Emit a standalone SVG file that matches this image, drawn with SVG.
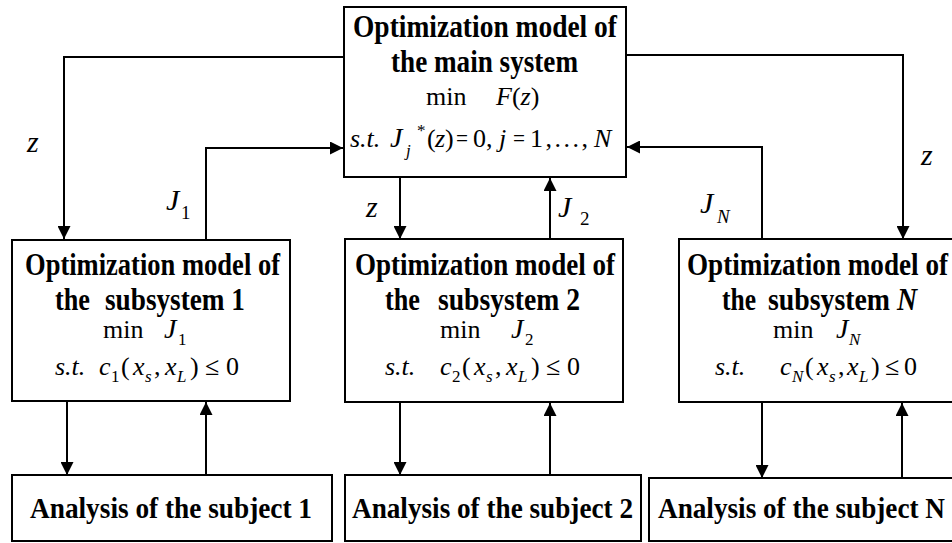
<svg xmlns="http://www.w3.org/2000/svg" width="952" height="543" viewBox="0 0 952 543">
<style>
.box{fill:#fff;stroke:#000;stroke-width:2}
.ln{fill:none;stroke:#000;stroke-width:2;marker-end:url(#ah)}
.t{font-family:"Liberation Serif","Times New Roman",serif;font-weight:bold;font-size:31px;fill:#000}
.b{font-family:"Liberation Serif","Times New Roman",serif;font-weight:bold;font-size:29px;fill:#000}
.m{font-family:"Liberation Serif","Times New Roman",serif;font-size:26px;fill:#000}
.i{font-style:italic}
.J{font-size:28px}
.s{font-size:17px}
.lb{font-family:"Liberation Serif","Times New Roman",serif;font-size:30px;font-style:italic;fill:#000}
.ls{font-family:"Liberation Serif","Times New Roman",serif;font-size:19px;fill:#000}
</style>
<defs>
<marker id="ah" markerUnits="userSpaceOnUse" markerWidth="13" markerHeight="13" refX="13" refY="6.5" orient="auto">
<path d="M0,0 L13,6.5 L0,13 z" fill="#000"/>
</marker>
</defs>
<rect width="952" height="543" fill="#fff"/>

<g id="connectors">
<path class="ln" d="M344,57 H64 V239"/>
<path class="ln" d="M206,240 V148 H343"/>
<path class="ln" d="M400,177 V239"/>
<path class="ln" d="M550,239 V178"/>
<path class="ln" d="M762,239 V147 H627"/>
<path class="ln" d="M626,55 H903 V239"/>
<path class="ln" d="M67,401 V475"/>
<path class="ln" d="M206,475 V402"/>
<path class="ln" d="M400,402 V475"/>
<path class="ln" d="M550,475 V403"/>
<path class="ln" d="M762,402 V478"/>
<path class="ln" d="M902,478 V403"/>
</g>

<g id="labels">
<text class="lb" x="27" y="152">z</text>
<text class="lb" x="166" y="210">J</text><text class="ls" x="181" y="219">1</text>
<text class="lb" x="366" y="217">z</text>
<text class="lb" x="558" y="217">J</text><text class="ls" x="580" y="225">2</text>
<text class="lb" x="700" y="213">J</text><text class="ls i" x="717" y="223">N</text>
<text class="lb" x="921" y="165">z</text>
</g>

<g id="main">
<rect class="box" x="344" y="7" width="282" height="170"/>
<text class="t" x="353" y="37" textLength="264" lengthAdjust="spacingAndGlyphs">Optimization model of</text>
<text class="t" x="391" y="72" textLength="187" lengthAdjust="spacingAndGlyphs">the main system</text>
<text class="m" x="426" y="105">min</text>
<text class="m" x="496" y="105"><tspan class="i">F</tspan>(<tspan class="i">z</tspan>)</text>
<text class="m i" x="350" y="147">s.t.</text>
<text class="m i J" x="390" y="147">J</text>
<text class="m s" x="417" y="136">*</text>
<text class="m s i" x="406" y="156">j</text>
<text class="m" x="427" y="147">(</text>
<text class="m i" x="435" y="147">z</text>
<text class="m" x="445" y="147">)</text>
<text class="m" x="456" y="147" textLength="12" lengthAdjust="spacingAndGlyphs">=</text>
<text class="m" x="473" y="147">0,</text>
<text class="m i" x="499" y="147">j</text>
<text class="m" x="513" y="147" textLength="12" lengthAdjust="spacingAndGlyphs">=</text>
<text class="m" x="530" y="147" textLength="58" lengthAdjust="spacing">1,...,</text>
<text class="m i" x="594" y="147">N</text>
</g>

<g id="sub1">
<rect class="box" x="12" y="240" width="278" height="161"/>
<text class="t" x="25" y="275" textLength="255" lengthAdjust="spacingAndGlyphs">Optimization model of</text>
<text class="t" x="55" y="310" textLength="35" lengthAdjust="spacingAndGlyphs">the</text>
<text class="t" x="105" y="310" textLength="140" lengthAdjust="spacingAndGlyphs">subsystem 1</text>
<text class="m" x="103" y="338">min</text>
<text class="m i J" x="164" y="338">J</text><text class="m s" x="178" y="345">1</text>
<text class="m i" x="55" y="375">s.t.</text>
<text class="m i" x="99" y="375">c</text><text class="m s" x="111" y="382">1</text>
<text class="m" x="121" y="375">(</text>
<text class="m i" x="133" y="375">x</text><text class="m s i" x="145" y="382">s</text>
<text class="m" x="154" y="375">,</text>
<text class="m i" x="165" y="375">x</text><text class="m s i" x="177" y="382">L</text>
<text class="m" x="190" y="375">)</text>
<text class="m" x="205" y="375">≤</text>
<text class="m" x="226" y="375">0</text>
</g>

<g id="sub2">
<rect class="box" x="345" y="239" width="278" height="163"/>
<text class="t" x="355" y="275" textLength="260" lengthAdjust="spacingAndGlyphs">Optimization model of</text>
<text class="t" x="385" y="310" textLength="35" lengthAdjust="spacingAndGlyphs">the</text>
<text class="t" x="438" y="310" textLength="142" lengthAdjust="spacingAndGlyphs">subsystem 2</text>
<text class="m" x="440" y="338">min</text>
<text class="m i J" x="511" y="338">J</text><text class="m s" x="525" y="345">2</text>
<text class="m i" x="385" y="375">s.t.</text>
<text class="m i" x="440" y="375">c</text><text class="m s" x="452" y="382">2</text>
<text class="m" x="462" y="375">(</text>
<text class="m i" x="474" y="375">x</text><text class="m s i" x="486" y="382">s</text>
<text class="m" x="495" y="375">,</text>
<text class="m i" x="506" y="375">x</text><text class="m s i" x="518" y="382">L</text>
<text class="m" x="531" y="375">)</text>
<text class="m" x="546" y="375">≤</text>
<text class="m" x="567" y="375">0</text>
</g>

<g id="subN">
<rect class="box" x="679" y="239" width="290" height="163"/>
<text class="t" x="687" y="275" textLength="261" lengthAdjust="spacingAndGlyphs">Optimization model of</text>
<text class="t" x="722" y="310" textLength="34" lengthAdjust="spacingAndGlyphs">the</text>
<text class="t" x="768" y="310" textLength="149" lengthAdjust="spacingAndGlyphs">subsystem <tspan class="i">N</tspan></text>
<text class="m" x="773" y="338">min</text>
<text class="m i J" x="836" y="338">J</text><text class="m s i" x="849" y="345">N</text>
<text class="m i" x="715" y="375">s.t.</text>
<text class="m i" x="780" y="375">c</text><text class="m s i" x="792" y="382">N</text>
<text class="m" x="805" y="375">(</text>
<text class="m i" x="817" y="375">x</text><text class="m s i" x="829" y="382">s</text>
<text class="m" x="838" y="375">,</text>
<text class="m i" x="847" y="375">x</text><text class="m s i" x="859" y="382">L</text>
<text class="m" x="871" y="375">)</text>
<text class="m" x="885" y="375">≤</text>
<text class="m" x="904" y="375">0</text>
</g>

<g id="ana1">
<rect class="box" x="12" y="475" width="320" height="66"/>
<text class="b" x="30" y="518" textLength="282" lengthAdjust="spacingAndGlyphs">Analysis of the subject 1</text>
</g>
<g id="ana2">
<rect class="box" x="345" y="475" width="296" height="66"/>
<text class="b" x="352" y="518" textLength="281" lengthAdjust="spacingAndGlyphs">Analysis of the subject 2</text>
</g>
<g id="anaN">
<rect class="box" x="649" y="478" width="320" height="63"/>
<text class="b" x="658" y="518" textLength="287" lengthAdjust="spacingAndGlyphs">Analysis of the subject N</text>
</g>
</svg>
